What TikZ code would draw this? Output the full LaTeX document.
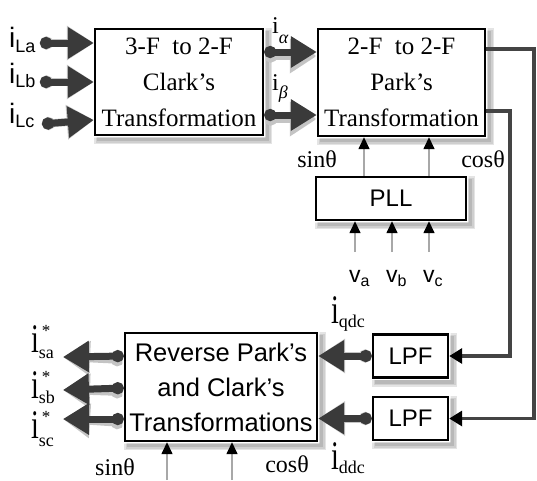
\documentclass[tikz,border=0pt]{standalone}
\usepackage{graphicx}
\usepackage{fontspec}
\setmainfont{Liberation Serif}
\setsansfont{Liberation Sans}
\usetikzlibrary{arrows.meta,calc}
\definecolor{arrgray}{HTML}{3A3A3A}
\definecolor{lngray}{HTML}{444444}
\definecolor{thingray}{HTML}{A8A8A8}
\definecolor{shA}{HTML}{E4E4E4}
\definecolor{shB}{HTML}{CFCFCF}
\definecolor{shC}{HTML}{B8B8B8}
\definecolor{shD}{HTML}{C4C4C4}
\newcommand\bigi{{\fontsize{28}{28}\selectfont\scalebox{1}[1.45]{i}}}
\newcommand\boxshadow[1]{%
    \fill[shA] ($(#1.north west)+(0,0)$) rectangle ($(#1.south east)+(8,8)$);
    \fill[shB] ($(#1.north west)+(2,2)$) rectangle ($(#1.south east)+(6.5,6.5)$);
    \fill[shC] ($(#1.north west)+(3,3)$) rectangle ($(#1.south east)+(5,5)$);}
\begin{document}
\begin{tikzpicture}[x=1pt,y=-1pt,
  box/.style={draw=black, line width=2.4pt, fill=white, inner sep=0pt, align=center},
  sbox/.style={box, font=\sffamily\fontsize{24}{35}\selectfont},
  rbox/.style={box, font=\sffamily\fontsize{25.5}{35}\selectfont},
  tbox/.style={box, font=\rmfamily\fontsize{25}{36}\selectfont},
  big/.style={draw=arrgray, line width=7pt,
    {Circle[length=12pt]}-{Triangle[length=26pt,width=30pt]}},
  bigsh/.style={draw=shD, line width=8pt,
    {Circle[length=13pt]}-{Triangle[length=27pt,width=33pt]}},
  conn/.style={draw=lngray, line width=3.5pt, -{Triangle[length=13pt,width=15pt,color=black]}},
  thinarr/.style={draw=thingray, line width=1.5pt, -{Triangle[length=12pt,width=11pt,color=black]}},
  lab/.style={inner sep=0pt, anchor=base west},
  slab/.style={lab, font=\sffamily\fontsize{28}{28}\selectfont},
  rlab/.style={lab, font=\rmfamily\fontsize{24}{24}\selectfont},
  clab/.style={inner sep=0pt, anchor=base, font=\rmfamily\fontsize{24}{24}\selectfont},
  vlab/.style={lab, font=\sffamily\fontsize{23}{23}\selectfont}
]
\useasboundingbox (0,0) rectangle (537,480);

% boxes
\node[tbox, minimum width=168pt, minimum height=106pt] (clark) at (179,82) {3-F~ to 2-F\\Clark’s\\Transformation};
\node[tbox, minimum width=167pt, minimum height=107pt] (park) at (401.5,82.5) {2-F~ to 2-F\\Park’s\\Transformation};
\node[sbox, minimum width=150pt, minimum height=43pt] (pll) at (391,198.5) {PLL};
\node[rbox, minimum width=192pt, minimum height=108pt] (rev) at (221,387) {Reverse Park’s\\and Clark’s\\Transformations};
\node[sbox, minimum width=75pt, minimum height=43pt] (lpfq) at (410.5,356) {LPF};
\node[sbox, minimum width=75pt, minimum height=43pt] (lpfd) at (410.5,418.5) {LPF};

% free ends
\coordinate (la) at (40,43);
\coordinate (lb) at (40,82);
\coordinate (lc) at (42,124);
\coordinate (osa) at (63,357);
\coordinate (osb) at (63,390);
\coordinate (osc) at (63,419);
\coordinate (va) at (355,252);
\coordinate (vb) at (392,252);
\coordinate (vc) at (429,252);
\coordinate (s1) at (167,480);
\coordinate (s2) at (232,480);

% thick arrows
\newcommand\thickarrows[1]{%
  \draw[#1] (la) -- (clark.west |- la);
  \draw[#1] (lb) -- (clark.west |- lb);
  \draw[#1] (lc) -- ($(clark.west)+(0,38)$);
  \draw[#1] (clark.east |- 0,52) -- (park.west |- 0,52);
  \draw[#1] (clark.east |- 0,115) -- (park.west |- 0,115);
  \draw[#1] (rev.west |- 0,356) -- (osa);
  \draw[#1] (rev.west |- 0,388) -- (osb);
  \draw[#1] (rev.west |- 0,419) -- (osc);
  \draw[#1] (lpfq.west) -- (rev.east |- lpfq.west);
  \draw[#1] (lpfd.west) -- (rev.east |- lpfd.west);
}

% shadows, kept outside the boxes
\begin{scope}[even odd rule]
  \clip (-10,-10) rectangle (547,490)
    ($(clark.north west)+(-1.5,-1.5)$) rectangle ($(clark.south east)+(1.5,1.5)$)
    ($(park.north west)+(-1.5,-1.5)$) rectangle ($(park.south east)+(1.5,1.5)$)
    ($(pll.north west)+(-1.5,-1.5)$) rectangle ($(pll.south east)+(1.5,1.5)$)
    ($(rev.north west)+(-1.5,-1.5)$) rectangle ($(rev.south east)+(1.5,1.5)$)
    ($(lpfq.north west)+(-1.5,-1.5)$) rectangle ($(lpfq.south east)+(1.5,1.5)$)
    ($(lpfd.north west)+(-1.5,-1.5)$) rectangle ($(lpfd.south east)+(1.5,1.5)$);
  \boxshadow{clark}
  \boxshadow{park}
  \boxshadow{pll}
  \boxshadow{rev}
  \boxshadow{lpfq}
  \boxshadow{lpfd}
  \begin{scope}[shift={(3,4)}]
    \thickarrows{bigsh}
  \end{scope}
\end{scope}

\thickarrows{big}

% connectors Park -> LPF
\draw[conn] (park.east |- 0,49) -| (lpfd.east -| 534,0) -- (lpfd.east);
\draw[conn] (park.east |- 0,111) -| (lpfq.east -| 510,0) -- (lpfq.east);

% thin arrows
\draw[thinarr] (pll.north -| 364,0) -- (park.south -| 364,0);
\draw[thinarr] (pll.north -| 429,0) -- (park.south -| 429,0);
\draw[thinarr] (va) -- (pll.south -| va);
\draw[thinarr] (vb) -- (pll.south -| vb);
\draw[thinarr] (vc) -- (pll.south -| vc);
\draw[thinarr] (s1) -- (rev.south -| s1);
\draw[thinarr] (s2) -- (rev.south -| s2);

% labels
\node[slab] (tLa) at (9,47) {i\raisebox{-5pt}{\fontsize{18}{18}\selectfont La}};
\node[slab] (tLb) at (9,83) {i\raisebox{-4pt}{\fontsize{18}{18}\selectfont Lb}};
\node[slab] (tLc) at (9,123) {i\raisebox{-4pt}{\fontsize{18}{18}\selectfont Lc}};
\node[rlab] (tal) at (272,33) {i\raisebox{-10pt}{\fontsize{18}{18}\selectfont\itshape α}};
\node[rlab] (tbe) at (272,90) {i\raisebox{-8pt}{\fontsize{18}{18}\selectfont\itshape β}};
\node[clab] (sin1) at (317,167) {sinθ};
\node[clab] (cos1) at (483,167) {cosθ};
\node[vlab] (tva) at (349,282) {v\raisebox{-4pt}{\fontsize{16}{16}\selectfont a}};
\node[vlab] (tvb) at (386,282) {v\raisebox{-4pt}{\fontsize{16}{16}\selectfont b}};
\node[vlab] (tvc) at (423,282) {v\raisebox{-4pt}{\fontsize{16}{16}\selectfont c}};
\node[rlab] (tq) at (331,323) {\bigi\raisebox{-4pt}{\fontsize{18}{18}\selectfont qdc}};
\node[rlab] (td) at (331,469) {\bigi\raisebox{-4pt}{\fontsize{18}{18}\selectfont ddc}};
\node[rlab] (tsa) at (31,352) {\bigi\rlap{\raisebox{16pt}{\fontsize{17}{17}\selectfont \,*}}\raisebox{-6pt}{\fontsize{18}{18}\selectfont sa}};
\node[rlab] (tsb) at (31,398) {\bigi\rlap{\raisebox{16pt}{\fontsize{17}{17}\selectfont \,*}}\raisebox{-5pt}{\fontsize{18}{18}\selectfont sb}};
\node[rlab] (tsc) at (31,438) {\bigi\rlap{\raisebox{16pt}{\fontsize{17}{17}\selectfont \,*}}\raisebox{-8pt}{\fontsize{18}{18}\selectfont sc}};
\node[clab] (sin2) at (115,475) {sinθ};
\node[clab] (cos2) at (287,472) {cosθ};
\end{tikzpicture}
\end{document}
